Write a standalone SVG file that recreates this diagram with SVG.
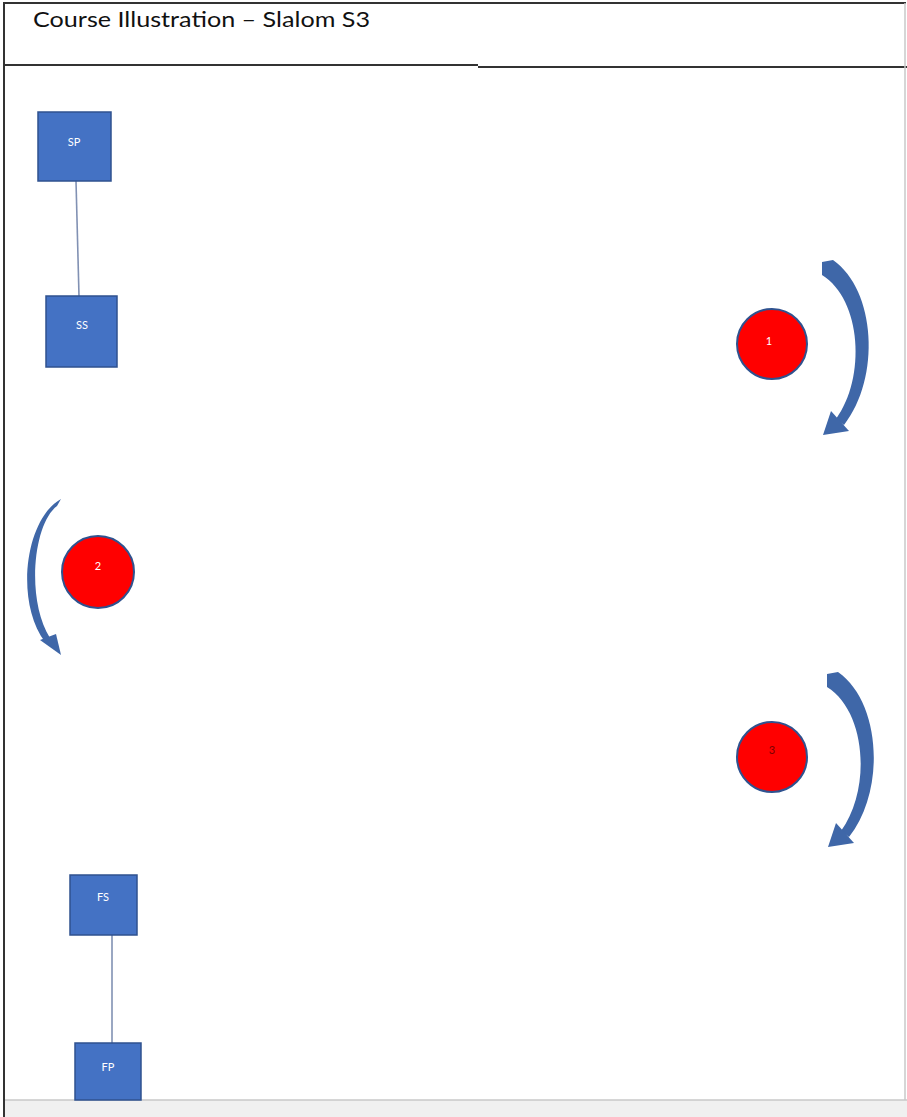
<svg xmlns="http://www.w3.org/2000/svg" width="907" height="1117" viewBox="0 0 907 1117">
<style>
.box{fill:#4472c4;stroke:#2f528f;stroke-width:1.5}
.lbl{font-family:Lato,"Liberation Sans",sans-serif;font-size:11px;fill:#ffffff;text-anchor:middle}
.ball{fill:#ff0000;stroke:#2f528f;stroke-width:2}
.arr{fill:#3f67a8}
.con{stroke:#8191b3;stroke-width:1.6;fill:none}
</style>
<rect x="0" y="0" width="907" height="1117" fill="#ffffff"/>
<g id="frame">
<path d="M4 1117 V3 H906" fill="none" stroke="#333333" stroke-width="2"/>
<path d="M4 65 H478 M478 67 H907" fill="none" stroke="#333333" stroke-width="2"/>
<line x1="905" y1="3" x2="905" y2="1100" stroke="#c9c9c9" stroke-width="1.5"/>
<rect x="5" y="1100" width="902" height="17" fill="#f0f0f0"/>
<line x1="5" y1="1100" x2="907" y2="1100" stroke="#c8c8c8" stroke-width="1.5"/>
<text x="33" y="27" font-family="Lato,'Liberation Sans',sans-serif" font-size="21" fill="#111111" textLength="337" lengthAdjust="spacingAndGlyphs">Course Illustration – Slalom S3</text>
</g>
<g id="connectors">
<line class="con" x1="76" y1="181" x2="79" y2="296"/>
<line class="con" x1="112" y1="935" x2="112" y2="1043"/>
</g>
<g id="SP"><rect class="box" x="38" y="112" width="73" height="69"/><text class="lbl" x="74" y="146">SP</text></g>
<g id="SS"><rect class="box" x="46" y="296" width="71" height="71"/><text class="lbl" x="82" y="329">SS</text></g>
<g id="FS"><rect class="box" x="70" y="875" width="67" height="60"/><text class="lbl" x="103" y="901">FS</text></g>
<g id="FP"><rect class="box" x="75" y="1043" width="66" height="57"/><text class="lbl" x="108" y="1071">FP</text></g>
<g id="cone1"><circle class="ball" cx="772" cy="344" r="35"/><text class="lbl" x="769" y="345">1</text></g>
<g id="cone2"><circle class="ball" cx="98" cy="572" r="36"/><text class="lbl" x="98" y="570">2</text></g>
<g id="cone3"><circle class="ball" cx="772" cy="757" r="35"/><text class="lbl" x="772" y="754" style="fill:#7a0000">3</text></g>
<g id="arrow1">
<path class="arr" d="M822 262 L833 260 C876 290 881 378 844 425 L836 419 C866 378 862 300 822 275 Z"/>
<polygon class="arr" points="831,411 849,431 823,435"/>
</g>
<g id="arrow3">
<path class="arr" d="M827 674 L838 672 C881 702 886 790 849 837 L841 831 C871 790 867 712 827 687 Z"/>
<polygon class="arr" points="836,823 854,843 828,847"/>
</g>
<g id="arrow2">
<path class="arr" d="M57 506 L61 499 C26 518 14 600 45 642 L50 638 C26 600 33 524 57 506 Z"/>
<polygon class="arr" points="40,640 56,634 61,655"/>
</g>
</svg>
